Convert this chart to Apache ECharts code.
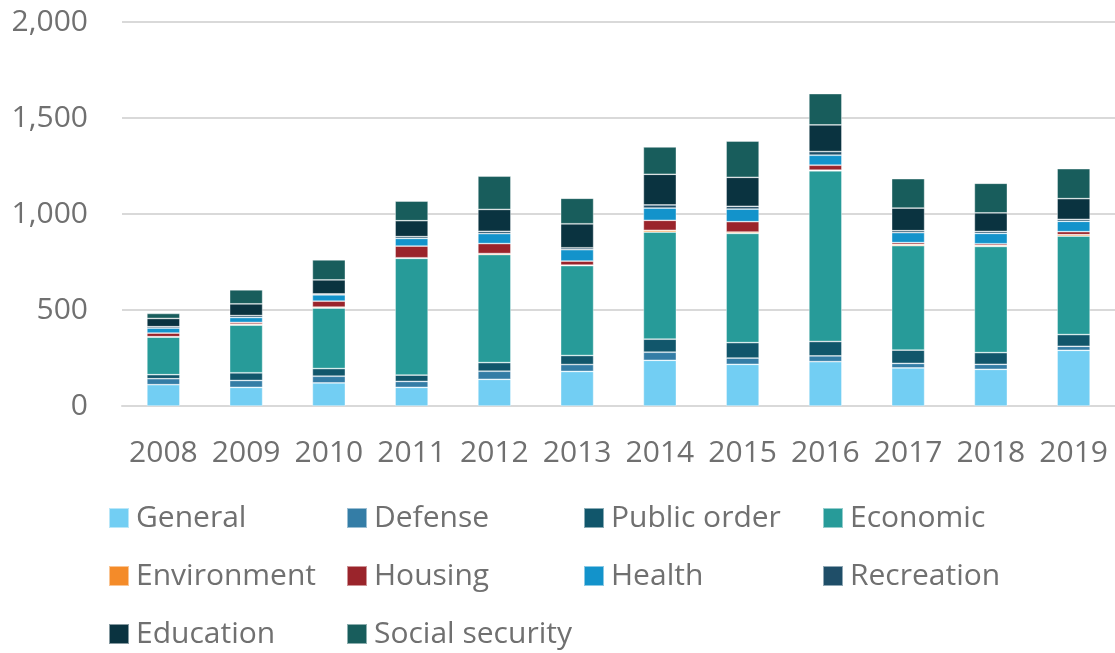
<!DOCTYPE html>
<html>
<head>
<meta charset="utf-8">
<script src="https://cdn.jsdelivr.net/npm/echarts@6/dist/echarts.min.js"></script>
<style>
  html, body { margin: 0; padding: 0; background: #fff; }
  #chart { width: 1115px; height: 653px; }
</style>
</head>
<body>
<div id="chart"></div>
<script>
var years = ['2008', '2009', '2010', '2011', '2012', '2013', '2014', '2015', '2016', '2017', '2018', '2019'];

var general = [111, 97, 120, 97, 139, 180, 238, 217, 231, 198, 191, 290];
var defense = [31, 36, 35, 31, 42, 36, 42, 33, 30, 24, 26, 21];
var publicOrder = [21, 40, 40, 33, 45, 47, 68, 80, 75, 69, 61, 61];
var economic = [196, 248, 315, 608, 563, 468, 558, 569, 889, 544, 553, 513];
var environment = [2, 5, 5, 3, 5, 3, 9, 7, 3, 7, 5, 7];
var housing = [19, 9, 31, 61, 52, 21, 52, 54, 26, 9, 9, 16];
var health = [26, 26, 33, 40, 52, 59, 64, 66, 52, 52, 54, 54];
var recreation = [7, 10, 5, 9, 12, 10, 16, 14, 19, 10, 10, 10];
var education = [43, 61, 73, 83, 114, 125, 160, 151, 139, 118, 97, 108];
var socialSecurity = [26, 73, 104, 102, 173, 133, 142, 189, 163, 153, 154, 156];

var seriesNames = ['General', 'Defense', 'Public order', 'Economic', 'Environment',
                   'Housing', 'Health', 'Recreation', 'Education', 'Social security'];
var seriesData = [general, defense, publicOrder, economic, environment,
                  housing, health, recreation, education, socialSecurity];
var colors = ['#72CEF3', '#347DA6', '#11566B', '#279B99', '#F48B29',
              '#9A242B', '#1393CB', '#1F4E68', '#0A3340', '#185D5C'];

var textColor = '#707070';
var font = 'Open Sans';

var chart = echarts.init(document.getElementById('chart'));

// legend: 4 columns x 3 rows, one legend component per item
var colX = [108, 346, 583, 822];
var rowY = [518, 576, 634];
var legends = seriesNames.map(function (name, i) {
    return {
        data: [name],
        left: colX[i % 4],
        top: rowY[Math.floor(i / 4)] - 15,
        padding: 0,
        itemWidth: 20,
        itemHeight: 20,
        icon: 'rect',
        selectedMode: false,
        textStyle: {
            color: textColor,
            fontFamily: font,
            fontSize: 30,
            lineHeight: 30,
            padding: [0, 0, 0, 2]
        }
    };
});

var option = {
    animation: false,
    color: colors,
    grid: {
        left: 122,
        width: 997,
        top: 22,
        bottom: 247
    },
    legend: legends,
    xAxis: {
        type: 'category',
        data: years,
        axisLine: { lineStyle: { color: '#d9d9d9', width: 2 } },
        axisTick: { show: false },
        axisLabel: {
            interval: 0,
            color: textColor,
            fontFamily: font,
            fontSize: 30,
            lineHeight: 30,
            margin: 32
        }
    },
    yAxis: {
        type: 'value',
        min: 0,
        max: 2000,
        interval: 500,
        axisLine: { show: false },
        axisTick: { show: false },
        splitLine: { lineStyle: { color: '#d9d9d9', width: 2 } },
        axisLabel: {
            color: textColor,
            fontFamily: font,
            fontSize: 30,
            margin: 34,
            formatter: function (v) { return v.toLocaleString('en-US'); }
        }
    },
    series: seriesNames.map(function (name, i) {
        return {
            name: name,
            type: 'bar',
            stack: 'total',
            barWidth: 33,
            data: seriesData[i],
            itemStyle: {
                borderColor: 'rgba(255,255,255,0.5)',
                borderWidth: 0.75
            }
        };
    })
};

chart.setOption(option);
</script>
</body>
</html>
